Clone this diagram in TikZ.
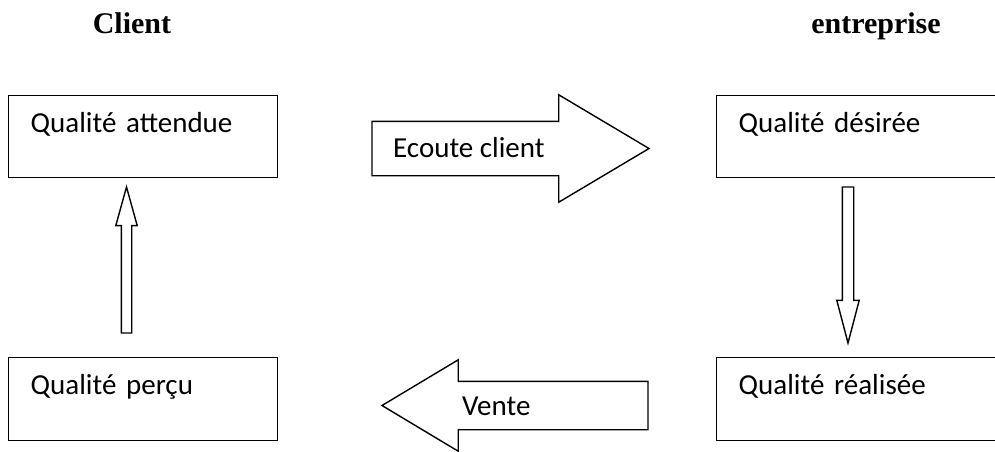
\documentclass[tikz,border=0pt]{standalone}
\usepackage{fontspec}
\setmainfont{Carlito}
\newfontfamily\titlefont{Liberation Serif}
\usetikzlibrary{shapes.arrows,positioning}

\begin{document}
\begin{tikzpicture}[x=1pt, y=-1pt,
  qbox/.style={draw, line width=1.4pt, anchor=north west, inner xsep=22pt, inner ysep=0pt, text width=225pt, align=left, text height=37pt, text depth=45pt, font=\fontsize{29}{34}\selectfont},
  widebox/.style={qbox, text width=270pt},
  blockarrow/.style={draw, line width=1.4pt, single arrow, single arrow head indent=0pt, inner xsep=0pt, outer sep=0pt, anchor=tail},
  lbl/.style={font=\fontsize{29}{34}\selectfont, inner sep=0pt, anchor=base west},
  title/.style={font=\titlefont\bfseries\fontsize{30}{36}\selectfont, inner sep=0pt, anchor=base}
]
\useasboundingbox (0,0) rectangle (995,451);
\clip (0,0) rectangle (995,451);

\node[title] (client) at (132,33) {Client};
\node[title] (entreprise) at (876,33) {entreprise};

\node[qbox] (attendue) at (8,95) {Qualité attendue};
\node[widebox] (desiree) at (716,95) {Qualité désirée};
\node[qbox, text depth=46pt] (percu) at (8,357) {Qualité perçu};
\node[widebox, text depth=46pt] (realisee) at (716,357) {Qualité réalisée};

% grosses fleches
\node[blockarrow, minimum height=277pt, inner ysep=26.5pt, single arrow head extend=26.5pt, single arrow tip angle=61.5] (ecoutearrow) at (372,148.5) {};
\node[lbl] (ecoute) at (393,157) {Ecoute client};
\node[blockarrow, rotate=180, minimum height=266pt, inner ysep=23.5pt, single arrow head extend=21.5pt, single arrow tip angle=61.9] (ventearrow) at (648,405.5) {};
\node[lbl] (vente) at (462,415) {Vente};

% fleches fines
\node[blockarrow, rotate=90, minimum height=146pt, inner ysep=4.5pt, single arrow head extend=5.5pt, single arrow tip angle=31] (uparrow) at (126.5,333) {};
\node[blockarrow, rotate=-90, minimum height=156pt, inner ysep=5pt, single arrow head extend=5.5pt, single arrow tip angle=29.4] (downarrow) at (848,187) {};

\end{tikzpicture}
\end{document}
